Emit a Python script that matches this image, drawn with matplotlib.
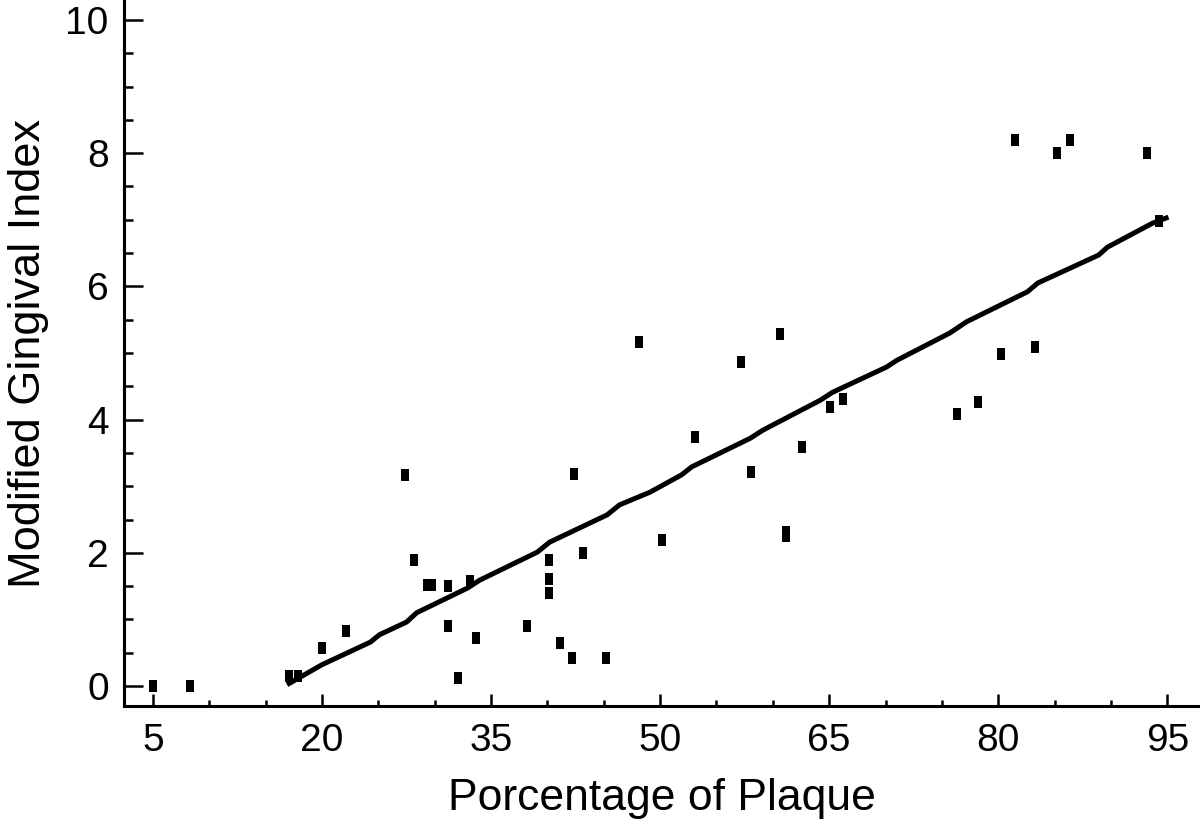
import numpy as np
import matplotlib.pyplot as plt
from matplotlib.ticker import MultipleLocator

plt.rcParams['font.family'] = ['Liberation Sans', 'DejaVu Sans']

# puntos (porcentaje de placa, indice gingival)
placa = [5, 8.3, 17.1, 17.9, 20.0, 22.1, 27.4, 28.2, 29.3, 29.8, 31.2, 31.2,
         32.1, 33.1, 33.7, 38.2, 40.1, 40.1, 40.1, 41.1, 42.4, 42.2, 43.2,
         45.2, 48.1, 50.2, 53.1, 57.2, 58.1, 60.6, 61.2, 61.2, 62.6, 65.1,
         66.2, 76.3, 78.2, 80.2, 83.3, 81.5, 85.2, 86.4, 93.2, 94.3]
indice = [0, 0, 0.15, 0.15, 0.57, 0.83, 3.17, 1.89, 1.52, 1.52, 1.5, 0.9,
          0.12, 1.58, 0.72, 0.9, 1.89, 1.6, 1.4, 0.65, 3.18, 0.42, 2.0,
          0.42, 5.17, 2.19, 3.74, 4.87, 3.21, 5.29, 2.32, 2.25, 3.59, 4.19,
          4.31, 4.08, 4.26, 4.98, 5.09, 8.2, 8.0, 8.2, 8.0, 6.98]

# linea di tendenza
linea_x = [16.9, 20.0, 24.3, 25.1, 27.5, 28.4, 32.9, 34.0, 39.1, 40.2, 45.3,
           46.4, 49.1, 51.9, 52.8, 58.0, 59.1, 64.2, 65.3, 70.1, 71.0, 75.7,
           77.2, 82.6, 83.5, 88.9, 89.7, 93.7, 95.1]
linea_y = [0.02, 0.32, 0.66, 0.77, 0.96, 1.10, 1.47, 1.59, 2.01, 2.16, 2.57,
           2.72, 2.91, 3.17, 3.29, 3.72, 3.84, 4.29, 4.41, 4.79, 4.89, 5.3,
           5.47, 5.92, 6.05, 6.47, 6.59, 6.95, 7.04]

rett = [(-0.33, -0.5), (0.33, -0.5), (0.33, 0.5), (-0.33, 0.5), (-0.33, -0.5)]

fig = plt.figure(figsize=(12, 8.24), dpi=100)
ax = fig.add_axes([0.1033, 0.1432, 0.8967, 0.8568])

ax.plot(linea_x, linea_y, color='black', lw=3.6, solid_capstyle='butt')
ax.plot(placa, indice, linestyle='none', marker=rett, markersize=9,
        color='black', markeredgewidth=0)

ax.set_xlim(2.43, 97.9)
ax.set_ylim(-0.3, 10.3)
ax.xaxis.set_minor_locator(MultipleLocator(5))
ax.yaxis.set_major_locator(MultipleLocator(2))
ax.yaxis.set_minor_locator(MultipleLocator(0.5))
ax.set_xticks([5, 20, 35, 50, 65, 80, 95])

for s in ['top', 'right']:
    ax.spines[s].set_visible(False)
for s in ['left', 'bottom']:
    ax.spines[s].set_linewidth(2.2)

ax.tick_params(axis='x', which='major', direction='in', length=9, width=1.8,
               labelsize=28, pad=12)
ax.tick_params(axis='x', which='minor', direction='in', length=4.5, width=1.8)
ax.tick_params(axis='y', which='major', direction='in', length=14, width=1.8,
               labelsize=28, pad=11)
ax.tick_params(axis='y', which='minor', direction='in', length=6.5, width=1.8)

ax.set_xlabel('Porcentage of Plaque', fontsize=32, labelpad=14)
ax.set_ylabel('Modified Gingival Index', fontsize=32.5, labelpad=12)

fig.savefig('out.png', dpi=100)
